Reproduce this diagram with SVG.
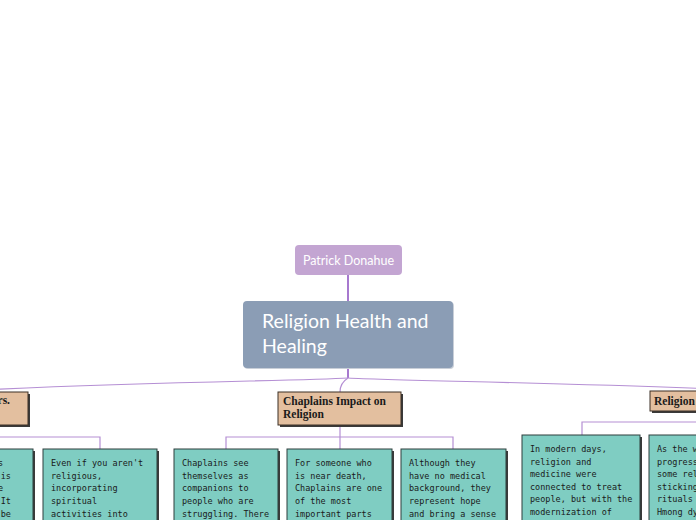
<svg xmlns="http://www.w3.org/2000/svg" width="696" height="520" viewBox="0 0 696 520">
<defs>
<style>
.conn{fill:none;stroke:#b58fd4;stroke-width:1.2}
.trunk{fill:none;stroke:#8a4cbf;stroke-width:1.5}
.sub{fill:#e3bf9f;stroke:#3c3026;stroke-width:1}
.leaf{fill:#7fcdc2;stroke:#2f3f3c;stroke-width:1}
.shadow{fill:#3a3a3a}
.subt{font-family:"Liberation Serif","DejaVu Serif",serif;font-weight:bold;font-size:11.5px;fill:#1a1a1a}
.leaft{font-family:"DejaVu Sans Mono","Liberation Mono",monospace;font-size:8.5px;fill:#1a1a1a}
</style>
</defs>
<rect width="696" height="520" fill="#ffffff"/>
<g id="connectors">
<path class="trunk" d="M348,275 L348,301"/>
<path class="trunk" d="M348,368 L348,378"/>
<path class="conn" d="M348,378 C300,381 120,382 -60,392"/>
<path class="conn" d="M348,378 C400,381 600,383 760,391"/>
<path class="conn" d="M348,378 Q340,383 340,392"/>
<path class="conn" d="M-60,425 L-60,437 L100,437 L100,449"/>
<path class="conn" d="M340,425 L340,449 M226,449 L226,437 L453,437 L453,449"/>
<path class="conn" d="M710,411 L710,422 L582,422 L582,435"/>
</g>
<g id="author">
<rect x="295" y="245" width="107" height="30" rx="4" fill="#c3a5d2"/>
<text x="348.5" y="264.5" text-anchor="middle" font-family="Lato,'Open Sans',sans-serif" font-size="12.5" fill="#ffffff">Patrick Donahue</text>
</g>
<g id="main">
<rect x="244" y="302" width="210" height="67" rx="4" fill="#c9cfd8"/>
<rect x="243" y="301" width="210" height="67" rx="4" fill="#8b9db5"/>
<text font-family="Lato,'Open Sans',sans-serif" font-size="19.5" fill="#ffffff"><tspan x="262" y="328">Religion Health and</tspan><tspan x="262" y="353">Healing</tspan></text>
</g>
<g id="sub-left">
<rect class="shadow" x="-98" y="394" width="128" height="33"/>
<rect class="sub" x="-100" y="392" width="128" height="33"/>
<text class="subt" x="10" y="404" text-anchor="end">rs.</text>
</g>
<g id="sub-chaplains">
<rect class="shadow" x="280" y="394" width="123" height="33"/>
<rect class="sub" x="278" y="392" width="123" height="33"/>
<text class="subt"><tspan x="283" y="405">Chaplains Impact on</tspan><tspan x="283" y="418">Religion</tspan></text>
</g>
<g id="sub-right">
<rect class="shadow" x="652" y="393" width="80" height="20"/>
<rect class="sub" x="650" y="391" width="80" height="20"/>
<text class="subt" x="654" y="405">Religion</text>
</g>
<g id="leaf-l1">
<rect class="shadow" x="-80" y="451" width="115" height="80"/>
<rect class="leaf" x="-82" y="449" width="115" height="80"/>
<text class="leaft" text-anchor="end"><tspan x="3" y="466">s</tspan><tspan x="11" y="479">is</tspan><tspan x="3" y="491">e</tspan><tspan x="11" y="504">It</tspan><tspan x="11" y="517">e be</tspan></text>
</g>
<g id="leaf-l2">
<rect class="shadow" x="45" y="451" width="114" height="80"/>
<rect class="leaf" x="43" y="449" width="114" height="80"/>
<text class="leaft"><tspan x="51" y="466">Even if you aren't</tspan><tspan x="51" y="479">religious,</tspan><tspan x="51" y="491">incorporating</tspan><tspan x="51" y="504">spiritual</tspan><tspan x="51" y="517">activities into</tspan></text>
</g>
<g id="leaf-c1">
<rect class="shadow" x="176" y="451" width="104" height="80"/>
<rect class="leaf" x="174" y="449" width="104" height="80"/>
<text class="leaft"><tspan x="182" y="466">Chaplains see</tspan><tspan x="182" y="479">themselves as</tspan><tspan x="182" y="491">companions to</tspan><tspan x="182" y="504">people who are</tspan><tspan x="182" y="517">struggling. There</tspan></text>
</g>
<g id="leaf-c2">
<rect class="shadow" x="289" y="451" width="105" height="80"/>
<rect class="leaf" x="287" y="449" width="105" height="80"/>
<text class="leaft"><tspan x="295" y="466">For someone who</tspan><tspan x="295" y="479">is near death,</tspan><tspan x="295" y="491">Chaplains are one</tspan><tspan x="295" y="504">of the most</tspan><tspan x="295" y="517">important parts</tspan></text>
</g>
<g id="leaf-c3">
<rect class="shadow" x="403" y="451" width="105" height="80"/>
<rect class="leaf" x="401" y="449" width="105" height="80"/>
<text class="leaft"><tspan x="409" y="466">Although they</tspan><tspan x="409" y="479">have no medical</tspan><tspan x="409" y="491">background, they</tspan><tspan x="409" y="504">represent hope</tspan><tspan x="409" y="517">and bring a sense</tspan></text>
</g>
<g id="leaf-r1">
<rect class="shadow" x="524" y="437" width="118" height="95"/>
<rect class="leaf" x="522" y="435" width="118" height="95"/>
<text class="leaft"><tspan x="530" y="452">In modern days,</tspan><tspan x="530" y="465">religion and</tspan><tspan x="530" y="477">medicine were</tspan><tspan x="530" y="490">connected to treat</tspan><tspan x="530" y="502">people, but with the</tspan><tspan x="530" y="515">modernization of</tspan></text>
</g>
<g id="leaf-r2">
<rect class="shadow" x="651" y="437" width="118" height="95"/>
<rect class="leaf" x="649" y="435" width="118" height="95"/>
<text class="leaft"><tspan x="657" y="452">As the w</tspan><tspan x="657" y="465">progress</tspan><tspan x="657" y="477">some rel</tspan><tspan x="657" y="490">sticking</tspan><tspan x="657" y="502">rituals</tspan><tspan x="657" y="515">Hmong dy</tspan></text>
</g>
</svg>
